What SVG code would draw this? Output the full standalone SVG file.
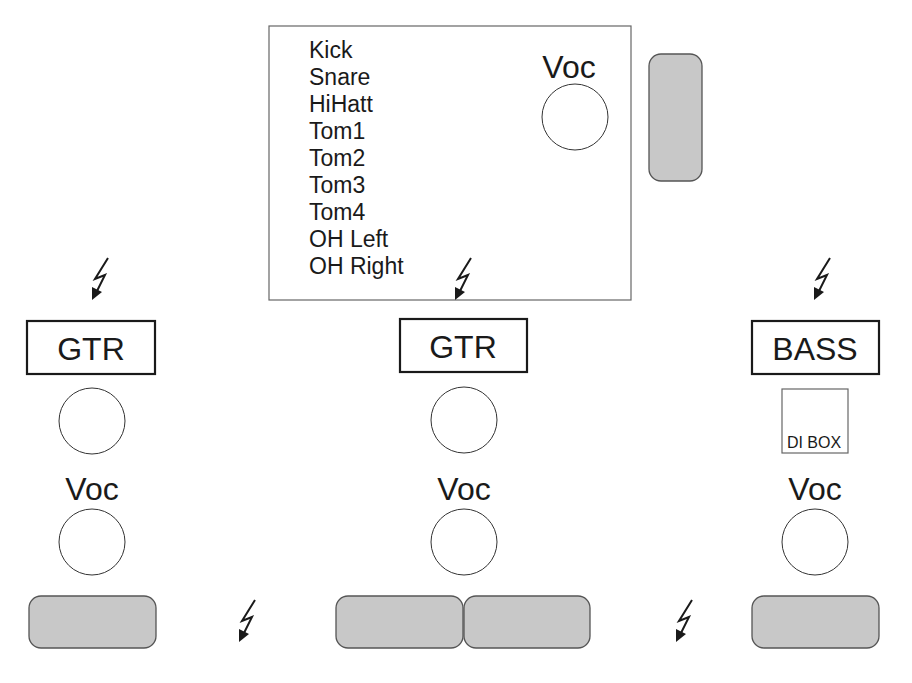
<svg xmlns="http://www.w3.org/2000/svg" xmlns:xlink="http://www.w3.org/1999/xlink" width="912" height="683" viewBox="0 0 912 683">
<style>
  text { font-family: "Liberation Sans", Arial, sans-serif; fill: #1a1a1a; }
  .drum { font-size: 23px; }
  .lbl { font-size: 32px; text-anchor: middle; }
  .amp { font-size: 32px; text-anchor: middle; }
  .mic { fill: #fff; stroke: #333; stroke-width: 1; }
  .wedge { fill: #c8c8c8; stroke: #555; stroke-width: 1.3; }
  .ampbox { fill: #fff; stroke: #1a1a1a; stroke-width: 2.2; }
  .thin { fill: #fff; stroke: #666; stroke-width: 1.2; }
  .bolt { fill: none; stroke: #1a1a1a; stroke-width: 2; stroke-linejoin: miter; }
  .boltHead { fill: #1a1a1a; }
</style>
<defs>
  <symbol id="bolt" overflow="visible">
    <path class="bolt" d="M16 0 L3 21 L13 17 L5 33"/>
    <polygon class="boltHead" points="0,42 0,29 10,34"/>
  </symbol>
</defs>

<g id="drum-riser">
  <rect x="269" y="26" width="362" height="274" class="thin"/>
  <text class="drum" x="309" y="58">Kick</text>
  <text class="drum" x="309" y="85">Snare</text>
  <text class="drum" x="309" y="112">HiHatt</text>
  <text class="drum" x="309" y="139">Tom1</text>
  <text class="drum" x="309" y="166">Tom2</text>
  <text class="drum" x="309" y="193">Tom3</text>
  <text class="drum" x="309" y="220">Tom4</text>
  <text class="drum" x="309" y="247">OH Left</text>
  <text class="drum" x="309" y="274">OH Right</text>
</g>
<g id="drum-voc">
  <text class="lbl" x="569" y="78">Voc</text>
  <circle class="mic" cx="575" cy="117" r="33"/>
</g>
<g id="drum-wedge">
  <rect class="wedge" x="649" y="54" width="53" height="127" rx="12"/>
</g>

<g id="power">
  <use xlink:href="#bolt" x="92" y="258"/>
  <use xlink:href="#bolt" x="455" y="258"/>
  <use xlink:href="#bolt" x="814" y="258"/>
  <use xlink:href="#bolt" x="239" y="600"/>
  <use xlink:href="#bolt" x="676" y="600"/>
</g>

<g id="gtr-left">
  <rect class="ampbox" x="27" y="321" width="128" height="53"/>
  <text class="amp" x="91" y="360">GTR</text>
  <circle class="mic" cx="92" cy="421" r="33"/>
</g>
<g id="gtr-mid">
  <rect class="ampbox" x="400" y="319" width="127" height="53"/>
  <text class="amp" x="463" y="358">GTR</text>
  <circle class="mic" cx="464" cy="420" r="33"/>
</g>
<g id="bass">
  <rect class="ampbox" x="752" y="321" width="127" height="53"/>
  <text class="amp" x="815" y="360">BASS</text>
  <rect class="thin" x="782" y="389" width="66" height="64"/>
  <text x="814" y="448" font-size="16" text-anchor="middle">DI BOX</text>
</g>

<g id="voc-left">
  <text class="lbl" x="92" y="500">Voc</text>
  <circle class="mic" cx="92" cy="542" r="33"/>
</g>
<g id="voc-mid">
  <text class="lbl" x="464" y="500">Voc</text>
  <circle class="mic" cx="464" cy="542" r="33"/>
</g>
<g id="voc-right">
  <text class="lbl" x="815" y="500">Voc</text>
  <circle class="mic" cx="815" cy="542" r="33"/>
</g>

<g id="wedge-left">
  <rect class="wedge" x="29" y="596" width="127" height="52" rx="12"/>
</g>
<g id="wedge-mid">
  <rect class="wedge" x="336" y="596" width="127" height="52" rx="12"/>
  <rect class="wedge" x="464" y="596" width="126" height="52" rx="12"/>
</g>
<g id="wedge-right">
  <rect class="wedge" x="752" y="596" width="127" height="52" rx="12"/>
</g>
<g id="connectors"/>
</svg>
